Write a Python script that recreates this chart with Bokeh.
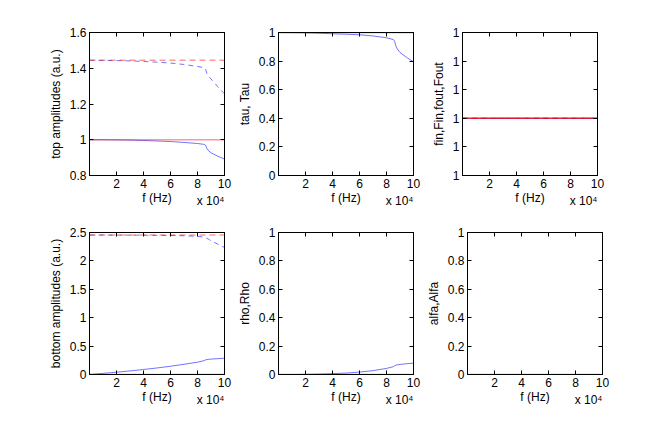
from bokeh.plotting import figure
from bokeh.layouts import column, row
from bokeh.models import (Range1d, FixedTicker, LinearAxis, CustomJSTickFormatter, Title)
from bokeh.embed import file_html
from bokeh.resources import INLINE

# ---------------- data ----------------
freq = [0, 10000, 20000, 30000, 40000, 50000, 60000, 70000, 80000, 85000,
        86000, 87000, 88000, 90000, 95000, 100000]

top_amp_solid = [1.0, 1.0, 0.999, 0.998, 0.996, 0.993, 0.99, 0.985, 0.979, 0.974,
                 0.969, 0.951, 0.94, 0.927, 0.908, 0.892]
top_amp_dashed = [1.445, 1.444, 1.443, 1.441, 1.438, 1.434, 1.429, 1.421, 1.41, 1.403,
                  1.395, 1.37, 1.358, 1.34, 1.297, 1.257]
top_ref_solid = 1.0
top_ref_dashed = 1.445

tau = [1.0, 0.999, 0.998, 0.995, 0.991, 0.988, 0.984, 0.976, 0.963, 0.951,
       0.94, 0.905, 0.885, 0.86, 0.825, 0.795]
Tau = 1.0

fin_vals = 1.0

bot_amp_solid = [0.0, 0.02, 0.04, 0.063, 0.088, 0.115, 0.145, 0.18, 0.217, 0.245,
                 0.258, 0.263, 0.266, 0.271, 0.279, 0.287]
bot_amp_dashed = [2.455, 2.455, 2.454, 2.453, 2.452, 2.45, 2.447, 2.442, 2.432, 2.42,
                  2.41, 2.395, 2.385, 2.355, 2.295, 2.236]
bot_ref_solid = 0.0
bot_ref_dashed = 2.455

rho = [0.0, 0.0, 0.001, 0.003, 0.006, 0.01, 0.017, 0.027, 0.043, 0.055,
       0.062, 0.066, 0.068, 0.071, 0.076, 0.08]
Rho = 0.0
alfa = 0.0
Alfa = 0.0

x_ticks = [20000, 40000, 60000, 80000, 100000]

FONT = "Liberation Sans"
FS = "12px"
BLUE = "#0000ff"
RED = "#ff0000"


def const(v):
    return [v for _ in freq]


def make(ylabel, yr, yticks, left, right, top, bottom, fh, fmt=None):
    p = figure(frame_width=135, frame_height=fh, output_backend="svg",
               toolbar_location=None, x_range=Range1d(0, 100000), y_range=Range1d(*yr),
               min_border_left=left, min_border_right=right,
               min_border_top=top, min_border_bottom=bottom)
    p.grid.visible = False
    p.outline_line_color = "black"
    p.background_fill_color = "white"
    p.border_fill_color = "white"
    p.xaxis.ticker = FixedTicker(ticks=x_ticks)
    p.xaxis.formatter = CustomJSTickFormatter(code="return (tick/10000).toFixed(0);")
    p.yaxis.ticker = FixedTicker(ticks=yticks)
    p.yaxis.formatter = fmt or CustomJSTickFormatter(code="return String(tick);")
    for ax in (p.xaxis[0], p.yaxis[0]):
        ax.major_tick_in = 4
        ax.major_tick_out = 0
        ax.minor_tick_line_color = None
        ax.axis_line_color = "black"
        ax.major_label_text_font = FONT
        ax.major_label_text_font_size = FS
        ax.major_label_text_color = "black"
        ax.axis_label_text_font = FONT
        ax.axis_label_text_font_size = FS
        ax.axis_label_text_font_style = "normal"
        ax.axis_label_text_color = "black"
        ax.major_label_standoff = 3
    p.xaxis.axis_label = "f (Hz)"
    p.xaxis.axis_label_standoff = 0
    p.yaxis.axis_label = ylabel
    p.yaxis.axis_label_standoff = 4
    ra = LinearAxis(ticker=FixedTicker(ticks=yticks), major_tick_in=4, major_tick_out=0,
                    minor_tick_line_color=None, major_label_text_font_size="0px",
                    major_label_standoff=0, axis_line_color="black",
                    formatter=CustomJSTickFormatter(code="return '';"))
    ta = LinearAxis(ticker=FixedTicker(ticks=x_ticks), major_tick_in=4, major_tick_out=0,
                    minor_tick_line_color=None, major_label_text_font_size="0px",
                    major_label_standoff=0, axis_line_color="black",
                    formatter=CustomJSTickFormatter(code="return '';"))
    p.add_layout(ra, "right")
    p.add_layout(ta, "above")
    p.add_layout(Title(text="x 10\u2074", align="right", vertical_align="top",
                       standoff=-28, offset=0, text_font=FONT, text_color="black",
                       text_font_size=FS, text_font_style="normal"), "below")
    return p


def blue(p, y, dash="solid"):
    p.line(freq, y, line_color=BLUE, line_alpha=0.55, line_width=1, line_dash=dash)


def red(p, y, dash="solid", alpha=0.4):
    p.line(freq, y, line_color=RED, line_alpha=alpha, line_width=1.6, line_dash=dash)


# top-left
p1 = make("top amplitudes (a.u.)", (0.8, 1.6), [0.8, 1.0, 1.2, 1.4, 1.6], 89, 10, 32, 45, 143)
blue(p1, top_amp_solid)
blue(p1, top_amp_dashed, "5 4")
red(p1, const(top_ref_solid))
red(p1, const(top_ref_dashed), "6 4")

# top-middle
p2 = make("tau, Tau", (0, 1), [0, 0.2, 0.4, 0.6, 0.8, 1.0], 39, 10, 32, 45, 143)
blue(p2, tau)
red(p2, const(Tau), alpha=0.6)

# top-right
d = 0.001
p3 = make("fin,Fin,fout,Fout", (1 - 0.4 * d, 1 + 0.6 * d),
          [1 - 0.4 * d, 1 - 0.2 * d, 1.0, 1 + 0.2 * d, 1 + 0.4 * d, 1 + 0.6 * d],
          39, 10, 32, 45, 143, fmt=CustomJSTickFormatter(code="return '1';"))
blue(p3, const(fin_vals))
blue(p3, const(fin_vals), "5 4")
red(p3, const(fin_vals), alpha=0.7)
red(p3, const(fin_vals), "6 4", alpha=0.4)

# bottom-left
p4 = make("bottom amplitudes (a.u.)", (0, 2.5), [0, 0.5, 1.0, 1.5, 2.0, 2.5], 89, 10, 12, 38, 142)
blue(p4, bot_amp_solid)
blue(p4, bot_amp_dashed, "5 4")
red(p4, const(bot_ref_solid))
red(p4, const(bot_ref_dashed), "6 4")

# bottom-middle
p5 = make("rho,Rho", (0, 1), [0, 0.2, 0.4, 0.6, 0.8, 1.0], 39, 10, 12, 38, 142)
blue(p5, rho)
red(p5, const(Rho))

# bottom-right
p6 = make("alfa,Alfa", (0, 1), [0, 0.2, 0.4, 0.6, 0.8, 1.0], 39, 10, 12, 38, 142)
blue(p6, const(alfa))
red(p6, const(Alfa))

layout = column(row(p1, p2, p3), row(p4, p5, p6))
open("out.html", "w").write(file_html(layout, INLINE))
